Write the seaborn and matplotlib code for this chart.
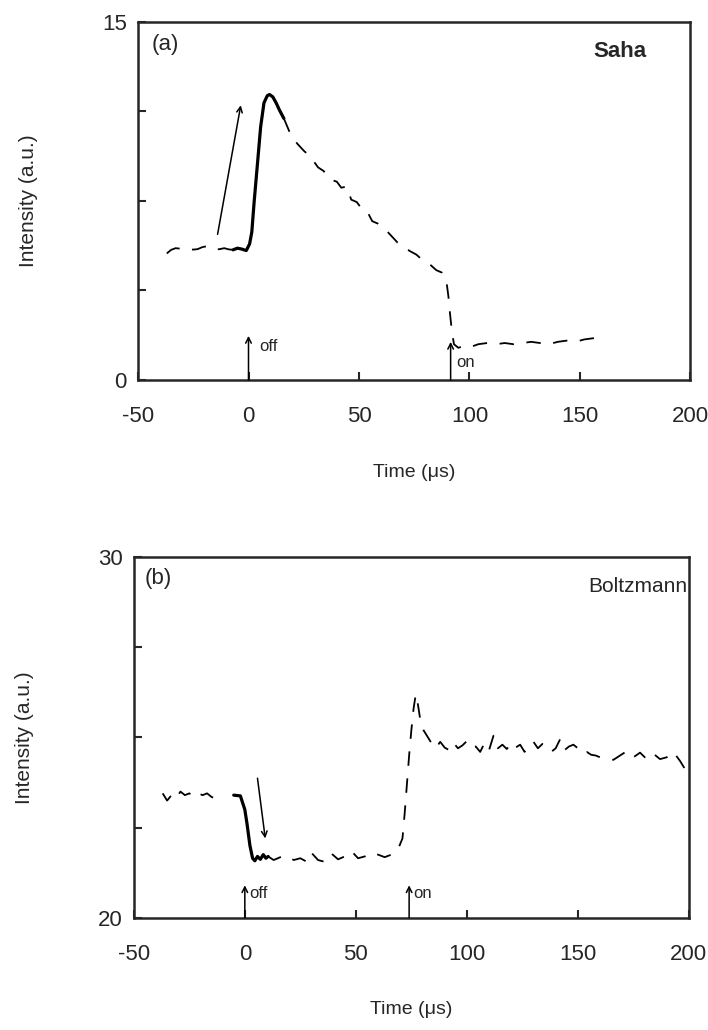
#Saha / Boltzmann  強度の時間変化
import numpy as np
import pandas as pd
import matplotlib
matplotlib.use("Agg")
import matplotlib.pyplot as plt
import seaborn as sns

sns.set_style("ticks")
plt.rcParams['font.family'] = ['Liberation Sans', 'DejaVu Sans']

#(a) Saha  -- 前半の点線、実線、後半の点線
t_pre_a = [-37, -35, -33, -31, -29, -27, -25, -23, -21, -19, -17, -15, -13, -11, -9, -7]
i_pre_a = [5.30, 5.45, 5.52, 5.50, 5.44, 5.47, 5.46, 5.48, 5.56, 5.60, 5.50, 5.46, 5.48, 5.52, 5.47, 5.45]
t_solid_a = [-7, -5, -3, -1, 0.5, 1.5, 2.5, 4, 5.5, 7, 8.5, 9.5, 11, 12.5, 14, 16]
i_solid_a = [5.45, 5.52, 5.48, 5.42, 5.7, 6.2, 7.4, 9.0, 10.6, 11.6, 11.9, 11.95, 11.85, 11.6, 11.3, 10.95]
t_post_a = [16, 18.5, 22, 25, 28, 31.5, 34, 37, 40, 42, 44.5, 46.5, 49, 51, 53.5, 56, 58.5, 61.5,
            64, 67.5, 70, 73, 76, 79, 82, 85, 87.5, 89.5, 90.5, 91.2, 92, 93, 95, 98, 101, 104,
            108, 112, 116, 120, 124, 128, 132, 136, 140, 144, 148, 152, 156, 160]
i_post_a = [10.95, 10.4, 9.9, 9.6, 9.35, 8.9, 8.75, 8.4, 8.3, 8.05, 8.1, 7.55, 7.45, 7.2, 7.1, 6.65, 6.55, 6.35,
            6.1, 5.75, 5.6, 5.4, 5.25, 5.0, 4.85, 4.6, 4.5, 4.2, 3.5, 2.8, 2.1, 1.5, 1.35, 1.45, 1.4, 1.5,
            1.55, 1.5, 1.55, 1.5, 1.55, 1.6, 1.55, 1.5, 1.6, 1.65, 1.6, 1.7, 1.75, 1.7]

#(b) Boltzmann
t_pre_b = [-37, -35, -33, -31, -29, -27, -25, -23, -21, -19, -17, -15, -13, -11]
i_pre_b = [23.45, 23.25, 23.4, 23.3, 23.5, 23.4, 23.45, 23.35, 23.45, 23.4, 23.45, 23.35, 23.3, 23.25]
t_solid_b = [-5, -2, 0, 1, 2.3, 3.5, 4.5, 5.7, 7, 8.3, 9.5, 10.5]
i_solid_b = [23.4, 23.38, 23.0, 22.6, 22.0, 21.65, 21.58, 21.7, 21.62, 21.75, 21.65, 21.7]
t_post_b = [10.5, 13, 16, 19, 22, 25, 28, 30, 33, 36, 39, 42, 45, 48, 51, 54, 57, 60, 63, 66, 69,
            71, 72, 73, 74, 75, 76, 77, 78, 79, 80.5, 82, 84, 86, 88, 90, 92, 94, 96, 98, 100,
            102, 104, 106, 108, 110, 112, 114, 116, 118, 120, 122, 124, 126, 128, 130, 132, 134,
            136, 138, 140, 142, 144, 146, 148, 150, 152, 154, 156, 158, 160, 163, 166, 169, 172,
            175, 178, 181, 184, 187, 190, 193, 196, 199]
i_post_b = [21.7, 21.6, 21.68, 21.72, 21.6, 21.65, 21.55, 21.8, 21.6, 21.55, 21.78, 21.62, 21.7, 21.85,
            21.65, 21.7, 21.8, 21.75, 21.68, 21.75, 21.9,
            22.2, 22.9, 23.7, 24.5, 25.2, 25.8, 26.2, 25.9, 25.5, 25.2, 25.05, 24.85, 24.7, 24.88,
            24.72, 24.65, 24.85, 24.7, 24.78, 24.9, 24.72, 24.75, 24.6, 24.85, 24.65, 25.05, 24.7,
            24.8, 24.68, 24.85, 24.72, 24.8, 24.6, 24.78, 24.88, 24.7, 24.82, 24.75, 24.6, 24.7,
            24.95, 24.65, 24.75, 24.8, 24.7, 24.55, 24.6, 24.52, 24.5, 24.45, 24.42, 24.38, 24.5,
            24.62, 24.45, 24.58, 24.4, 24.55, 24.4, 24.45, 24.6, 24.35, 24.05]

x_ticks = [-50, 0, 50, 100, 150, 200]
off_on_a = [0, 91.5]
off_on_b = [0, 74]

fig = plt.figure(figsize=(7.08, 10.30), dpi=100)
ax1 = fig.add_axes([0.195, 0.631, 0.780, 0.348])
ax2 = fig.add_axes([0.189, 0.109, 0.784, 0.350])

dash = (0, (8, 7))

def draw(ax, pre, solid, post):
    sns.lineplot(x=pre[0], y=pre[1], ax=ax, color='black', lw=1.3, linestyle=dash, sort=False, estimator=None)
    sns.lineplot(x=solid[0], y=solid[1], ax=ax, color='black', lw=2.3, sort=False, estimator=None)
    sns.lineplot(x=post[0], y=post[1], ax=ax, color='black', lw=1.3, linestyle=dash, sort=False, estimator=None)

draw(ax1, (t_pre_a, i_pre_a), (t_solid_a, i_solid_a), (t_post_a, i_post_a))
draw(ax2, (t_pre_b, i_pre_b), (t_solid_b, i_solid_b), (t_post_b, i_post_b))

#軸の設定
for ax, ylim in [(ax1, (0, 15)), (ax2, (20, 30))]:
    ax.set_xlim(-50, 200)
    ax.set_ylim(*ylim)
    lo, hi = ylim
    step = (hi - lo) / 4
    ax.set_yticks([lo + k * step for k in range(5)])
    ax.set_yticklabels([str(lo), '', '', '', str(hi)])
    ax.set_xticks(x_ticks)
    ax.set_xticklabels([str(v) for v in x_ticks])
    ax.tick_params(direction='in', length=6, width=1.5, labelsize=16)
    ax.tick_params(axis='x', pad=19)
    ax.tick_params(axis='y', pad=8)
    for s in ax.spines.values():
        s.set_linewidth(1.8)
        s.set_visible(True)
    ax.set_xlabel('Time (μs)', fontsize=14, labelpad=26)
    ax.set_ylabel('Intensity (a.u.)', fontsize=15, labelpad=46)

#矢印とラベル
arr = dict(arrowstyle='->', lw=1.1, color='black', shrinkA=0, shrinkB=0)
ax1.annotate('', xy=(-3.5, 11.5), xytext=(-14, 6.1), arrowprops=arr)
ax1.annotate('', xy=(off_on_a[0], 1.85), xytext=(off_on_a[0], 0), arrowprops=arr)
ax1.annotate('', xy=(off_on_a[1], 1.6), xytext=(off_on_a[1], 0), arrowprops=arr)
ax1.text(5, 1.2, 'off', fontsize=12)
ax1.text(94, 0.55, 'on', fontsize=12)
ax1.text(0.025, 0.965, '(a)', transform=ax1.transAxes, fontsize=16, va='top', ha='left')
ax1.text(0.92, 0.945, 'Saha', transform=ax1.transAxes, fontsize=16, va='top', ha='right', weight='bold')

ax2.annotate('', xy=(9.2, 22.2), xytext=(5.7, 23.87), arrowprops=arr)
ax2.annotate('', xy=(off_on_b[0], 20.9), xytext=(off_on_b[0], 20), arrowprops=arr)
ax2.annotate('', xy=(off_on_b[1], 20.9), xytext=(off_on_b[1], 20), arrowprops=arr)
ax2.text(2, 20.55, 'off', fontsize=12)
ax2.text(76, 20.55, 'on', fontsize=12)
ax2.text(0.02, 0.97, '(b)', transform=ax2.transAxes, fontsize=16, va='top', ha='left')
ax2.text(0.998, 0.945, 'Boltzmann', transform=ax2.transAxes, fontsize=15, va='top', ha='right')

plt.savefig('out.png', dpi=100)
